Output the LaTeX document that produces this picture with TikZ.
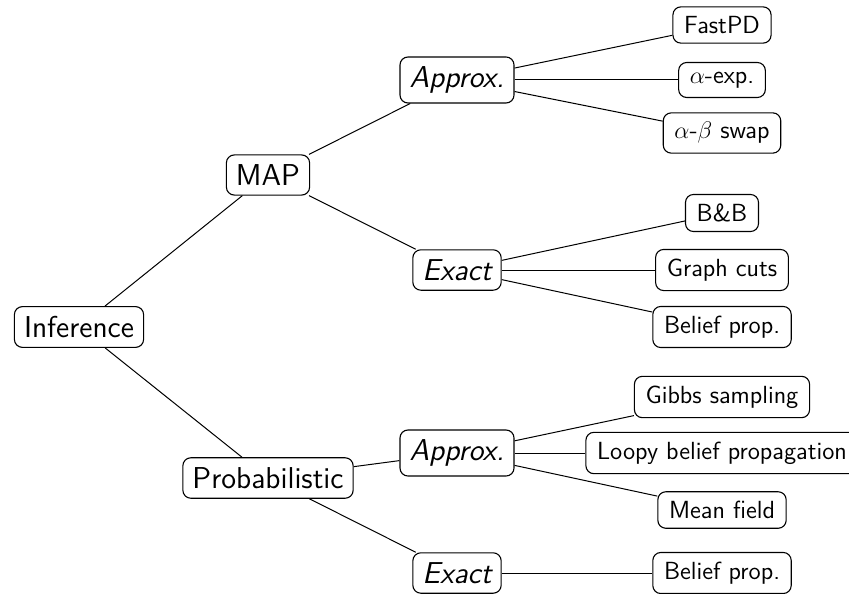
\documentclass[tikz,border=0pt]{standalone}
\usepackage{tikz}
\begin{document}
\begin{tikzpicture}[x=0.5pt,y=-0.5pt,
  box/.style={draw, rounded corners=4pt, line width=0.55pt, font=\sffamily},
  inner/.style={box, inner xsep=4.8pt, inner ysep=4.8pt, font=\sffamily\fontsize{15.1}{18}\selectfont},
  leaf/.style={box, inner xsep=5.6pt, inner ysep=4.7pt, font=\sffamily\fontsize{12.4}{15}\selectfont},
  edge/.style={line width=0.5pt}]
\useasboundingbox (0,0) rectangle (849,593);

% root and first split
\node[inner] (inf)  at (79,327)  {Inference};
\node[inner] (map)  at (268,175) {MAP};
\node[inner] (prob) at (268,478) {Probabilistic};

% approximate / exact families
\node[inner] (mapapp) at (457,80)  {\itshape Approx.};
\node[inner] (mapex)  at (457,270) {\itshape Exact};
\node[inner] (prapp)  at (457,453) {\itshape Approx.};
\node[inner] (prex)   at (457,573) {\itshape Exact};

% algorithms
\node[leaf] (fastpd) at (722,25)  {FastPD};
\node[leaf] (aexp)   at (722,80)  {$\alpha$-exp.};
\node[leaf] (abswap) at (722,133) {$\alpha$-$\beta$ swap};
\node[leaf] (bnb)    at (722,213) {B\&B};
\node[leaf] (gcut)   at (722,270) {Graph cuts};
\node[leaf] (bpmap)  at (722,327) {Belief prop.};
\node[leaf] (gibbs)  at (722,397) {Gibbs sampling};
\node[leaf] (lbp)    at (722,453) {Loopy belief propagation};
\node[leaf] (mf)     at (722,510) {Mean field};
\node[leaf] (bpprob) at (722,573) {Belief prop.};

\draw[edge] (inf) -- (map);
\draw[edge] (inf) -- (prob);
\draw[edge] (map) -- (mapapp);
\draw[edge] (map) -- (mapex);
\draw[edge] (prob) -- (prapp);
\draw[edge] (prob) -- (prex);
\draw[edge] (mapapp) -- (fastpd);
\draw[edge] (mapapp) -- (aexp);
\draw[edge] (mapapp) -- (abswap);
\draw[edge] (mapex) -- (bnb);
\draw[edge] (mapex) -- (gcut);
\draw[edge] (mapex) -- (bpmap);
\draw[edge] (prapp) -- (gibbs);
\draw[edge] (prapp) -- (lbp);
\draw[edge] (prapp) -- (mf);
\draw[edge] (prex) -- (bpprob);
\end{tikzpicture}
\end{document}
